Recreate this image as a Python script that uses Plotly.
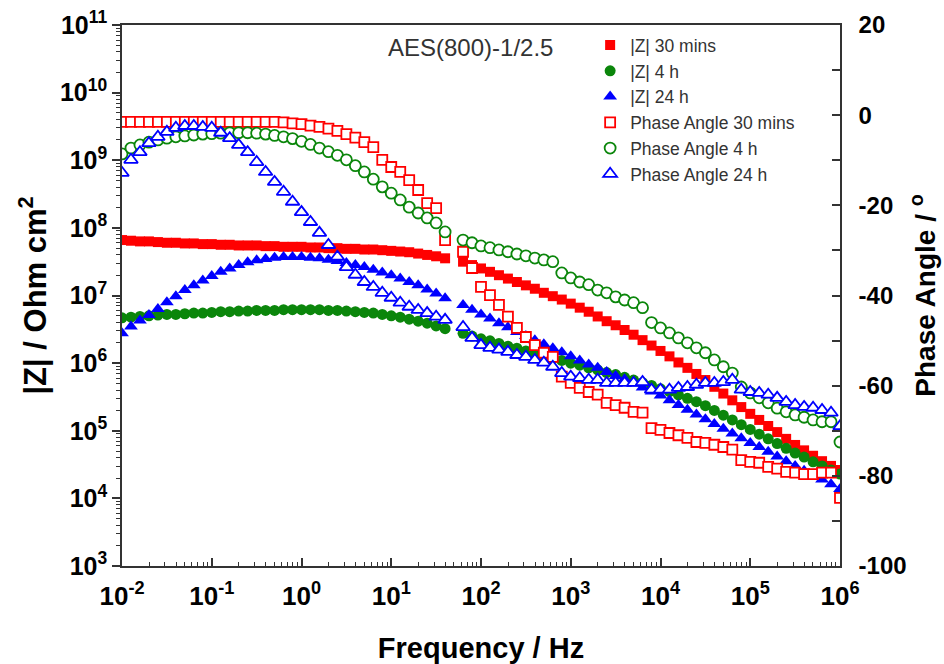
import plotly.graph_objects as go

# Frequency exponents (log10 Hz), 10 points per decade, gap near 50 Hz
FREQ_EXP = [
    -2.0, -1.9, -1.8, -1.7, -1.6, -1.5, -1.4, -1.3, -1.2, -1.1,
    -1.0, -0.9, -0.8, -0.7, -0.6, -0.5, -0.4, -0.3, -0.2, -0.1,
    0.0, 0.1, 0.2, 0.3, 0.4, 0.5, 0.6, 0.7, 0.8, 0.9,
    1.0, 1.1, 1.2, 1.3, 1.4, 1.5, 1.6, 1.8, 1.9,
    2.0, 2.1, 2.2, 2.3, 2.4, 2.5, 2.6, 2.7, 2.8, 2.9,
    3.0, 3.1, 3.2, 3.3, 3.4, 3.5, 3.6, 3.7, 3.8, 3.9,
    4.0, 4.1, 4.2, 4.3, 4.4, 4.5, 4.6, 4.7, 4.8, 4.9,
    5.0, 5.1, 5.2, 5.3, 5.4, 5.5, 5.6, 5.7, 5.8, 5.9,
    6.0,
]

# log10(|Z| / Ohm cm2)
Z_30MIN_LOG = [
    7.82, 7.81, 7.80, 7.80, 7.79, 7.78, 7.78, 7.77, 7.77, 7.76,
    7.76, 7.75, 7.75, 7.74, 7.74, 7.74, 7.73, 7.73, 7.72, 7.72,
    7.72, 7.71, 7.71, 7.70, 7.70, 7.69, 7.69, 7.68, 7.68, 7.67,
    7.66, 7.65, 7.64, 7.62, 7.60, 7.58, 7.55, 7.50, 7.45,
    7.40, 7.35, 7.30, 7.25, 7.20, 7.15, 7.10, 7.04, 6.99, 6.94,
    6.88, 6.82, 6.76, 6.69, 6.62, 6.56, 6.49, 6.42, 6.34, 6.26,
    6.18, 6.10, 6.01, 5.93, 5.84, 5.75, 5.65, 5.55, 5.45, 5.35,
    5.25, 5.16, 5.07, 4.98, 4.88, 4.79, 4.71, 4.63, 4.55, 4.48,
    4.42,
]
Z_4H_LOG = [
    6.67, 6.68, 6.69, 6.70, 6.71, 6.72, 6.72, 6.73, 6.74, 6.74,
    6.75, 6.76, 6.76, 6.77, 6.77, 6.78, 6.78, 6.78, 6.79, 6.79,
    6.79, 6.79, 6.79, 6.78, 6.78, 6.77, 6.76, 6.75, 6.74, 6.72,
    6.70, 6.68, 6.65, 6.62, 6.59, 6.55, 6.51, 6.44, 6.40,
    6.36, 6.33, 6.29, 6.25, 6.22, 6.18, 6.14, 6.11, 6.07, 6.04,
    6.00, 5.97, 5.93, 5.90, 5.86, 5.83, 5.79, 5.75, 5.71, 5.67,
    5.62, 5.58, 5.53, 5.48, 5.43, 5.37, 5.30, 5.23, 5.16, 5.09,
    5.02, 4.95, 4.88, 4.81, 4.74, 4.67, 4.61, 4.54, 4.48, 4.42,
    4.36,
]
Z_24H_LOG = [
    6.44, 6.54, 6.63, 6.71, 6.80, 6.90, 6.99, 7.08, 7.15, 7.22,
    7.29, 7.35, 7.40, 7.45, 7.49, 7.52, 7.54, 7.56, 7.57, 7.57,
    7.57, 7.56, 7.55, 7.53, 7.51, 7.48, 7.45, 7.42, 7.38, 7.34,
    7.30, 7.25, 7.20, 7.15, 7.09, 7.03, 6.96, 6.86, 6.79,
    6.72, 6.66, 6.59, 6.53, 6.46, 6.40, 6.34, 6.28, 6.22, 6.16,
    6.10, 6.04, 5.98, 5.93, 5.87, 5.81, 5.76, 5.70, 5.64, 5.58,
    5.52, 5.45, 5.38, 5.31, 5.24, 5.17, 5.10, 5.03, 4.96, 4.89,
    4.82, 4.76, 4.69, 4.62, 4.55, 4.48, 4.41, 4.35, 4.28, 4.21,
    4.14,
]

# Phase angle (degrees)
PH_30MIN = [
    -1.5, -1.5, -1.5, -1.5, -1.5, -1.5, -1.5, -1.5, -1.5, -1.5,
    -1.5, -1.5, -1.5, -1.5, -1.5, -1.5, -1.5, -1.5, -1.6, -1.8,
    -2.0, -2.3, -2.6, -3.0, -3.5, -4.2, -5.0, -6.0, -7.1, -9.9,
    -11.5, -12.6, -14.4, -16.6, -19.5, -20.6, -27.7, -30.3, -33.9,
    -38.1, -39.9, -42.1, -44.7, -47.2, -49.2, -51.0, -52.7, -53.6, -58.0,
    -59.4, -60.5, -61.4, -62.0, -63.8, -64.3, -64.9, -65.8, -66.0, -69.4,
    -69.8, -70.5, -71.0, -71.6, -72.5, -72.7, -73.1, -73.6, -74.2, -76.5,
    -76.9, -77.1, -78.0, -78.4, -79.1, -79.3, -79.6, -79.6, -79.3, -79.3,
    -84.9,
]
PH_4H = [
    -8.6, -7.3, -6.6, -6.0, -5.5, -5.1, -4.8, -4.6, -4.4, -4.2,
    -4.1, -4.0, -3.9, -3.9, -3.9, -4.0, -4.2, -4.5, -4.8, -5.2,
    -5.8, -6.5, -7.3, -8.1, -8.9, -9.9, -11.2, -12.6, -14.2, -15.9,
    -17.3, -18.8, -20.4, -21.7, -22.8, -23.9, -25.9, -27.7, -28.3,
    -29.0, -29.4, -29.9, -30.3, -30.8, -31.2, -31.7, -32.1, -32.5, -35.0,
    -36.1, -37.0, -37.6, -38.8, -39.4, -40.3, -41.0, -41.6, -42.7, -46.0,
    -47.2, -48.3, -49.4, -50.5, -51.6, -52.7, -54.3, -55.8, -57.2, -60.3,
    -61.6, -62.7, -63.8, -65.0, -65.8, -66.5, -67.0, -67.6, -68.0, -68.0,
    -72.5,
]
PH_24H = [
    -12.8, -9.9, -8.2, -6.2, -4.8, -3.7, -2.8, -2.4, -2.4, -2.6,
    -2.8, -3.9, -5.1, -6.6, -8.2, -10.4, -12.6, -14.8, -17.0, -19.2,
    -21.5, -23.7, -26.1, -28.8, -31.4, -33.7, -35.4, -37.0, -38.1, -39.4,
    -40.5, -41.6, -42.5, -43.2, -43.9, -44.7, -45.4, -47.0, -49.4,
    -51.0, -51.6, -52.0, -52.5, -53.2, -53.6, -54.3, -54.9, -55.8, -57.2,
    -58.0, -58.3, -58.7, -58.7, -59.4, -59.4, -59.4, -59.4, -59.2, -60.9,
    -60.9, -60.9, -60.5, -60.3, -59.8, -59.4, -59.4, -59.2, -58.7, -60.9,
    -61.4, -61.6, -62.0, -62.7, -63.6, -64.3, -64.7, -64.9, -65.4, -66.0,
    -69.0,
]

X_TICK_EXP = [-2, -1, 0, 1, 2, 3, 4, 5, 6]
Y_TICK_EXP = [3, 4, 5, 6, 7, 8, 9, 10, 11]
PHASE_TICKS = [-100, -80, -60, -40, -20, 0, 20]

RED = "#ff0000"
GREEN = "#0b860b"
BLUE = "#0000ff"
FONT = "Liberation Sans, Arial, sans-serif"
NARROW = "Liberation Sans Narrow, Liberation Sans, Arial, sans-serif"

freq = [10 ** e for e in FREQ_EXP]

fig = go.Figure()

mag_series = [
    ("|Z| 30 mins", Z_30MIN_LOG, "square", RED, 10),
    ("|Z| 4 h", Z_4H_LOG, "circle", GREEN, 11),
    ("|Z| 24 h", Z_24H_LOG, "triangle-up", BLUE, 12),
]
for name, vals, sym, col, sz in mag_series:
    fig.add_trace(go.Scatter(
        x=freq, y=[10 ** v for v in vals], mode="markers", name=name,
        marker=dict(symbol=sym, size=sz, color=col, line=dict(width=0)),
        yaxis="y",
    ))

phase_series = [
    ("Phase Angle 30 mins", PH_30MIN, "square", RED, 10),
    ("Phase Angle 4 h", PH_4H, "circle", GREEN, 11),
    ("Phase Angle 24 h", PH_24H, "triangle-up", BLUE, 12),
]
for name, vals, sym, col, sz in phase_series:
    fig.add_trace(go.Scatter(
        x=freq, y=vals, mode="markers", name=name,
        marker=dict(symbol=sym, size=sz, color="white", line=dict(color=col, width=1.8)),
        yaxis="y2",
    ))

minor_x = [m * 10 ** k for k in range(-2, 6) for m in range(2, 10)]
minor_y = [m * 10 ** k for k in range(3, 11) for m in range(2, 10)]

fig.update_layout(
    width=944, height=664,
    margin=dict(l=122, r=104, t=25, b=98),
    paper_bgcolor="white", plot_bgcolor="white",
    font=dict(family=FONT, color="black"),
    showlegend=True,
    legend=dict(
        x=0.652, y=0.996, xanchor="left", yanchor="top",
        bgcolor="rgba(0,0,0,0)", borderwidth=0,
        font=dict(family=FONT, size=17.5, color="#333333"),
        tracegroupgap=0, itemsizing="trace",
    ),
    xaxis=dict(
        type="log", range=[-2, 6], automargin=False,
        tickmode="array",
        tickvals=[10 ** k for k in X_TICK_EXP],
        ticktext=[f"<b>10<sup>{k}</sup></b>" for k in X_TICK_EXP],
        tickfont=dict(family=NARROW, size=26, color="black"),
        ticklabelstandoff=6,
        ticks="inside", ticklen=8, tickwidth=1.5, tickcolor="#333",
        minor=dict(tickmode="array", tickvals=minor_x, ticks="inside",
                   ticklen=4, tickwidth=1, tickcolor="#333", showgrid=False),
        showline=True, linecolor="#333", linewidth=1.5, mirror=True,
        showgrid=False, zeroline=False,
        title=dict(text="<b>Frequency / Hz</b>", standoff=28,
                   font=dict(family=FONT, size=29, color="black")),
    ),
    yaxis=dict(
        type="log", range=[3, 11], automargin=False,
        tickmode="array",
        tickvals=[10 ** k for k in Y_TICK_EXP],
        ticktext=[f"<b>10<sup>{k}</sup></b>" for k in Y_TICK_EXP],
        tickfont=dict(family=FONT, size=25, color="black"),
        ticks="outside", ticklen=8, tickwidth=1.5, tickcolor="#333",
        minor=dict(tickmode="array", tickvals=minor_y, ticks="outside",
                   ticklen=4, tickwidth=1, tickcolor="#333", showgrid=False),
        showline=True, linecolor="#333", linewidth=1.5,
        showgrid=False, zeroline=False,
        title=dict(text="<b>|Z| / Ohm cm<sup>2</sup></b>", standoff=4,
                   font=dict(family=FONT, size=31, color="black")),
    ),
    yaxis2=dict(
        overlaying="y", side="right", range=[-100, 20], automargin=False,
        tickmode="array", tickvals=PHASE_TICKS,
        ticktext=[f"<b>{v}</b>" for v in PHASE_TICKS],
        tickfont=dict(family=FONT, size=24, color="black"),
        ticklabelstandoff=12,
        ticks="inside", ticklen=8, tickwidth=1.5, tickcolor="#333",
        minor=dict(tickmode="linear", tick0=-100, dtick=10, ticks="inside",
                   ticklen=8, tickwidth=1.5, tickcolor="#333", showgrid=False),
        showline=True, linecolor="#333", linewidth=1.5,
        showgrid=False, zeroline=False,
        title=dict(text="<b>Phase Angle / <sup>o</sup></b>", standoff=10,
                   font=dict(family=FONT, size=28, color="black")),
    ),
    annotations=[
        dict(text="AES(800)-1/2.5", xref="paper", yref="paper",
             x=0.367, y=0.958, xanchor="left", yanchor="middle",
             showarrow=False, font=dict(family=FONT, size=24, color="#333333")),
    ],
)

fig.write_html("out.html")
